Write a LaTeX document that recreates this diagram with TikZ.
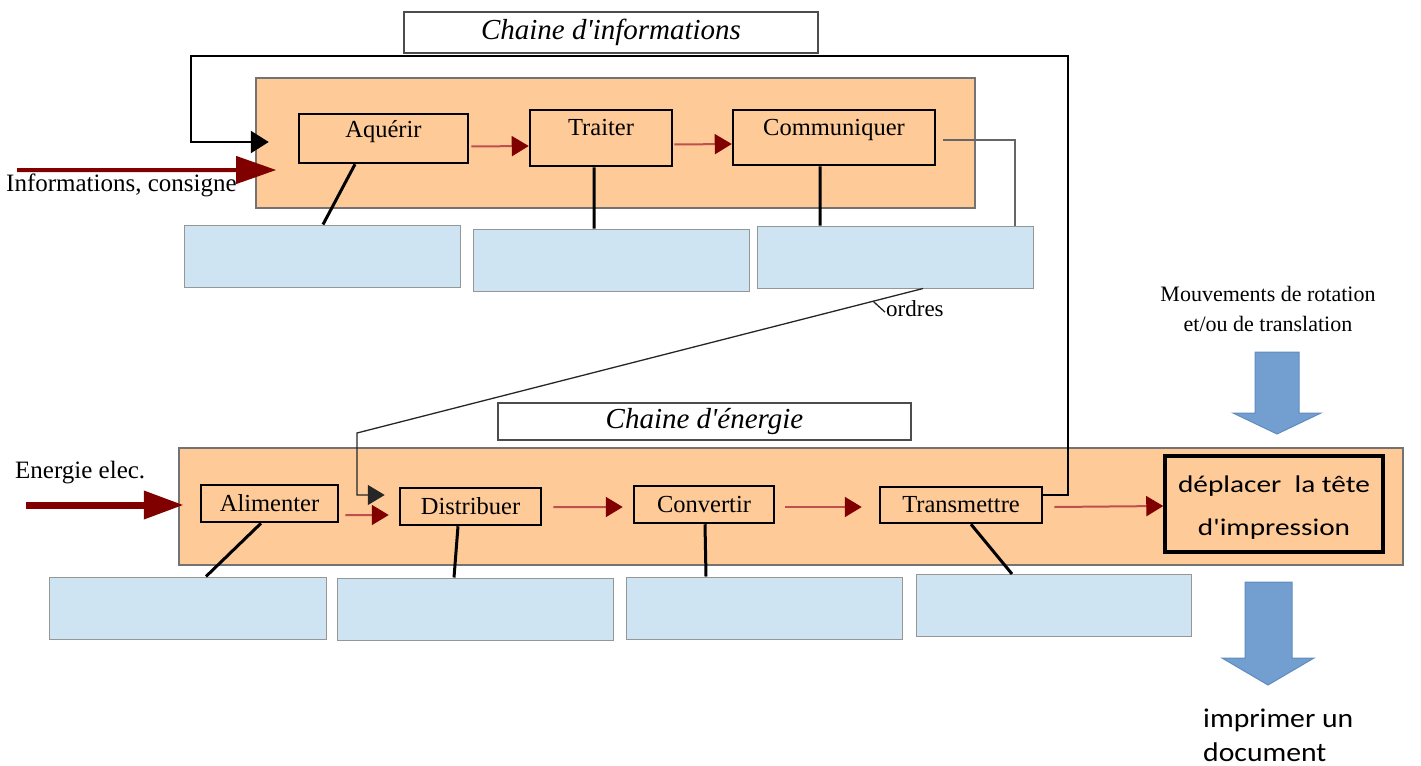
\documentclass[tikz,border=0pt]{standalone}
\usepackage{fontspec}
\setmainfont{Liberation Serif}[Ligatures=TeXOff]
\newfontfamily\calibw{Carlito}[FakeStretch=1.22]
\newfontfamily\calibv{Carlito}[FakeStretch=1.1]
\usetikzlibrary{arrows.meta,calc}
\definecolor{orng}{RGB}{253,202,152}
\definecolor{lblue}{RGB}{207,228,242}
\definecolor{bgray}{RGB}{150,150,150}
\definecolor{dred}{RGB}{128,0,0}
\definecolor{lred}{RGB}{192,80,77}
\definecolor{arrblue}{RGB}{114,159,207}
\definecolor{arrblueb}{RGB}{95,140,190}
\begin{document}
\begin{tikzpicture}[x=1bp,y=-1bp,
  lbl/.style={font=\fontsize{24.5bp}{28bp}\selectfont},
  sidelbl/.style={font=\fontsize{25bp}{29bp}\selectfont},
  chainbox/.style={draw=black!55, line width=1.5bp, fill=orng, inner sep=0pt},
  titlebox/.style={draw=black!70, line width=1.5bp, fill=white, inner sep=0pt, font=\fontsize{29bp}{33bp}\selectfont\itshape},
  fbox/.style={draw=black, line width=2.5bp, fill=orng, inner sep=0pt, lbl},
  emptybox/.style={draw=bgray, line width=1bp, fill=lblue, inner sep=0pt, minimum width=276bp, minimum height=62bp},
  redarrow/.style={draw=lred, line width=2bp, -{Triangle[length=17bp,width=20bp,color=dred]}},
  bigarrow/.style={draw=dred, -{Triangle[length=40bp,width=27bp]}},
  link/.style={draw=black, line width=3bp},
  loopline/.style={draw=black, line width=2.5bp},
  grayline/.style={draw=black!60, line width=2bp},
  ordline/.style={draw=black!85, line width=1.3bp},
  bluearr/.style={fill=arrblue, draw=arrblueb, line width=1bp}
]
\useasboundingbox (0,0) rectangle (1421,765);
% chains
\node[chainbox, minimum width=719bp, minimum height=130bp] (ichain) at (615.5,143) {};
\node[chainbox, minimum width=1224bp, minimum height=117bp] (echain) at (791,506.5) {};
% info functions
\node[fbox, minimum width=169bp, minimum height=49bp, text height=23bp, text depth=26bp] (aq) at (383.5,138.5) {Aquérir};
\node[fbox, minimum width=142bp, minimum height=56bp, text height=25bp, text depth=31bp] (tr) at (601,138) {Traiter};
\node[fbox, minimum width=202bp, minimum height=55bp, text height=25bp, text depth=30bp] (co) at (834,137.5) {Communiquer};
% energy functions
\node[fbox, minimum width=137bp, minimum height=37bp] (al) at (269.5,503.5) {Alimenter};
\node[fbox, minimum width=141bp, minimum height=37bp] (di) at (470.5,506.5) {Distribuer};
\node[fbox, minimum width=140bp, minimum height=37bp] (cv) at (704,504.5) {Convertir};
\node[fbox, minimum width=162bp, minimum height=36bp] (tm) at (961,505) {Transmettre};
\node[fbox, line width=3.5bp, minimum width=218bp, minimum height=96bp, text height=79bp, text depth=17bp, align=center, font=\calibw\fontsize{24bp}{43bp}\selectfont] (dp) at (1274,504) {déplacer\ \ la tête\\d'impression};
% empty boxes
\node[emptybox] (b1) at (322,256) {};
\node[emptybox] (b2) at (611.5,260) {};
\node[emptybox] (b3) at (895.5,257) {};
\node[emptybox] (c1) at (188,608) {};
\node[emptybox] (c2) at (475,609) {};
\node[emptybox] (c3) at (764,608) {};
\node[emptybox, minimum width=275bp] (c4) at (1053.5,605.5) {};
% links to empty boxes
\draw[link] ([xshift=-28.5bp]aq.south) -- ([xshift=1bp]b1.north);
\draw[link] ([xshift=-7bp]tr.south) -- ([xshift=-17.5bp]b2.north);
\draw[link] ([xshift=-14bp]co.south) -- ([xshift=-75.5bp]b3.north);
\draw[link] ([xshift=-8.5bp]al.south) -- ([xshift=18bp]c1.north);
\draw[link] ([xshift=-12.5bp]di.south) -- ([xshift=-21bp]c2.north);
\draw[link] ([xshift=1bp]cv.south) -- ([xshift=-58bp]c3.north);
\draw[link] ([xshift=10bp]tm.south) -- ([xshift=-41.5bp]c4.north);
% flow arrows
\draw[redarrow] ([xshift=2bp,yshift=-8bp]aq.east) -- ([yshift=-8bp]tr.west);
\draw[redarrow] ([xshift=1bp,yshift=-6.5bp]tr.east) -- ([yshift=-6.5bp]co.west);
\draw[redarrow] ([xshift=6bp,yshift=-11.5bp]al.east) -- ([xshift=-10bp,yshift=-8.5bp]di.west);
\draw[redarrow] ([xshift=11bp,yshift=-0.5bp]di.east) -- ([xshift=-10bp,yshift=-2.5bp]cv.west);
\draw[redarrow] ([xshift=10bp,yshift=-2.5bp]cv.east) -- ([xshift=-17bp,yshift=-2bp]tm.west);
\draw[redarrow] ([xshift=11bp,yshift=-2bp]tm.east) -- ([yshift=-2bp]dp.west);
% input arrows
\coordinate (iin) at (17,170);
\coordinate (ein) at (26,505);
\draw[bigarrow, line width=4bp] (iin) -- ([xshift=21bp,yshift=-27bp]ichain.west);
\draw[bigarrow, line width=7bp] (ein) -- ([xshift=-16bp,yshift=-1.5bp]al.west);
% feedback loop
\coordinate (lr) at (1068,56);
\coordinate (ll) at (191,56);
\draw[loopline, -{Triangle[length=18bp,width=22bp]}] ([yshift=10bp]tm.east) -| (lr) -- (ll) |- ([xshift=-29bp,yshift=-3.5bp]aq.west);
% communiquer to box
\draw[grayline] ([xshift=7bp,yshift=-2.5bp]co.east) -| ([xshift=119.5bp]b3.north);
% ordres
\coordinate (ob) at (357,433);
\draw[ordline, -{Triangle[length=17bp,width=20bp]}] ([xshift=27.5bp]b3.south) -- (ob) |- ([xshift=-14bp,yshift=11.5bp]di.west);
\node[font=\fontsize{23bp}{27bp}\selectfont, anchor=base west, inner sep=0pt] (ord) at (886,316) {ordres};
\draw[ordline] ([xshift=-1bp,yshift=-4bp]ord.west) -- ++(-12,-11);
% titles
\node[titlebox, minimum width=414bp, minimum height=41bp] (ti) at (611,32.5) {Chaine d'informations};
\node[titlebox, minimum width=413bp, minimum height=37bp] (te) at (704.5,421.5) {Chaine d'énergie};
% texts
\node[sidelbl, anchor=base west, inner sep=0pt] (tinf) at (6,191) {Informations, consigne};
\node[sidelbl, anchor=base west, inner sep=0pt] (tene) at (15,478) {Energie elec.};
\node[align=center, inner sep=0pt, anchor=base, font=\fontsize{22bp}{30bp}\selectfont] (tmv) at (1268,331) {Mouvements de rotation\\et/ou de translation};
\node[anchor=base west, align=left, inner sep=0pt, font=\calibv\fontsize{27bp}{34bp}\selectfont] (timp) at (1203,761) {imprimer un\\document};
% blue arrows
\filldraw[bluearr] (1255,352) -- (1299,352) -- (1299,413) -- (1321,413) -- (1277,434) -- (1233,413) -- (1255,413) -- cycle;
\filldraw[bluearr] (1245,582) -- (1292,582) -- (1292,658) -- (1314,658) -- (1268,685) -- (1222,658) -- (1245,658) -- cycle;
\end{tikzpicture}
\end{document}
